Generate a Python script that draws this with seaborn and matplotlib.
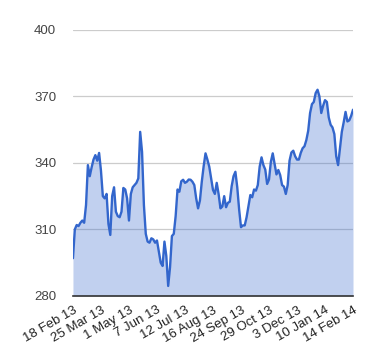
import matplotlib
matplotlib.use("Agg")
import matplotlib.pyplot as plt
import seaborn as sns
import numpy as np
import pandas as pd

# Closing values (roughly evenly spaced samples)
prices = [
    297, 310, 312, 311.5, 313, 314, 313, 321, 339, 334,
    338, 341.5, 343.5, 341, 344.5, 336.5, 325, 324, 326, 312.5,
    307.5, 325, 329, 318, 316, 315.5, 318, 328.7, 328, 324,
    314, 326, 329, 330, 331, 333, 354, 345, 321, 308,
    304.5, 304, 306, 305.5, 304, 305, 300, 295, 293.5, 304.5,
    298, 284.5, 293, 307, 308, 316, 328, 327, 331.7, 332.4,
    331, 331.5, 332.5, 332.4, 331.5, 330, 324, 319.5, 323, 331.5,
    338.5, 344.3, 341.5, 338.3, 333, 327.8, 326, 331, 326, 319.5,
    320.3, 325, 320, 322, 322.5, 329.5, 334, 336, 329, 319,
    311, 311.8, 311.8, 315.5, 320.5, 325.5, 324.5, 328, 327.5, 330,
    338.3, 342.5, 339, 337, 330.5, 332.5, 340.5, 344.3, 339.5, 334.8,
    336.8, 334.5, 330, 329.3, 326, 330, 341, 344.7, 345.5, 343,
    341.5, 341.5, 344.5, 346.6, 347.5, 350.3, 354.5, 362.5, 366.5, 367.5,
    371.5, 373, 370, 362.5, 365.8, 368.3, 367.5, 360.5, 357.2, 356,
    353, 343, 339, 346.5, 354, 358.3, 363, 358.7, 359.2, 361.2,
    364,
]
date_labels = ["18 Feb 13", "25 Mar 13", "1 May 13", "7 Jun 13", "12 Jul 13",
               "16 Aug 13", "24 Sep 13", "29 Oct 13", "3 Dec 13", "10 Jan 14",
               "14 Feb 14"]
y_ticks = [280, 310, 340, 370, 400]

df = pd.DataFrame({"day": np.arange(len(prices)), "price": prices})
label_step = (len(prices) - 1) // (len(date_labels) - 1)

sns.set_style("white")
plt.rcParams["font.family"] = ["Liberation Sans", "DejaVu Sans"]

fig = plt.figure(figsize=(3.8, 3.6), dpi=100)
ax = fig.add_axes([0.192, 0.178, 0.737, 0.739])

ax.fill_between(df["day"], df["price"], y_ticks[0], color="#3366cc", alpha=0.3, lw=0)
sns.lineplot(data=df, x="day", y="price", ax=ax, color="#3366cc", lw=1.7)

ax.set_xlim(df["day"].min(), df["day"].max())
ax.set_ylim(y_ticks[0], y_ticks[-1])
ax.set_yticks(y_ticks)
ax.set_yticklabels([str(t) for t in y_ticks], color="#444444", fontsize=9.5)
ax.set_xticks(df["day"][::label_step])
ax.set_xticklabels(date_labels, rotation=30, ha="right", rotation_mode="anchor",
                   color="#222222", fontsize=9.5)
ax.tick_params(axis="both", length=0)
ax.tick_params(axis="y", pad=12)
ax.tick_params(axis="x", pad=6)
ax.set_xlabel("")
ax.set_ylabel("")

ax.grid(axis="y", color="#cccccc", lw=0.9)
ax.set_axisbelow(True)
for side in ["left", "right", "top"]:
    ax.spines[side].set_visible(False)
ax.spines["bottom"].set_color("#333333")
ax.spines["bottom"].set_linewidth(1.2)

fig.savefig("out.png", dpi=100)
